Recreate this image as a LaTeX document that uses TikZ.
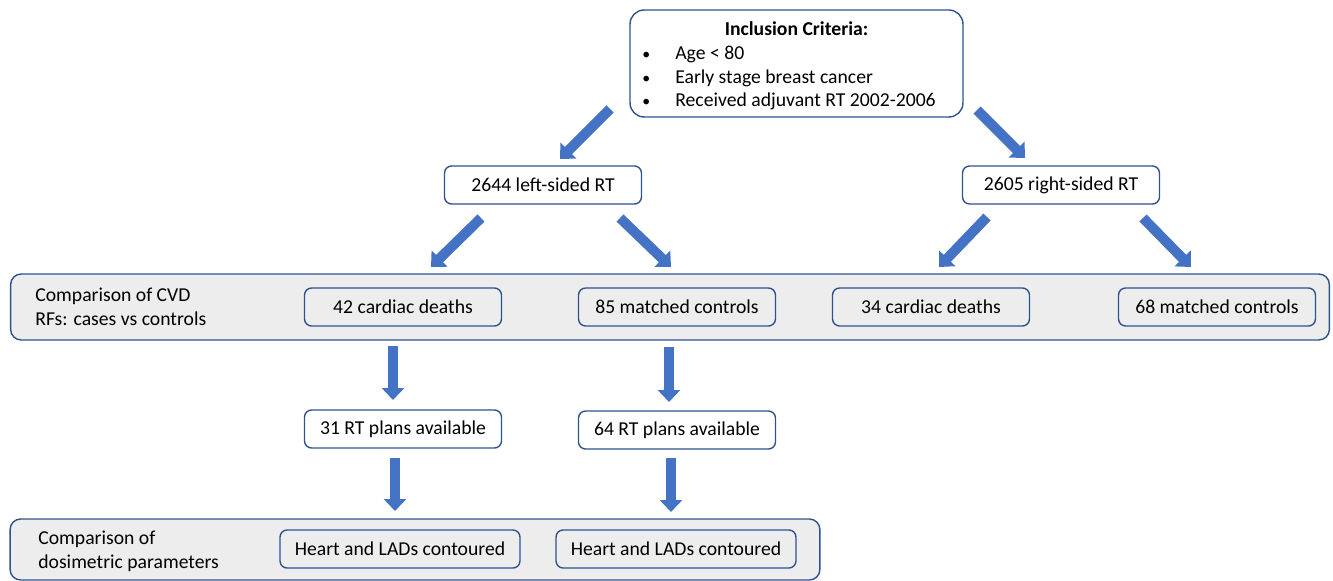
\documentclass[tikz,border=0pt]{standalone}
\usepackage{fontspec}
\setmainfont{Carlito}
\usepackage{xcolor}
\usepackage{tikz}
\usetikzlibrary{arrows.meta,positioning,calc}
\definecolor{edge}{HTML}{2F528F}
\definecolor{arrw}{HTML}{4472C4}
\definecolor{band}{HTML}{EDEDED}
\tikzset{
  box/.style={draw=edge,thick,rounded corners=4pt,minimum width=3.94cm,minimum height=0.76cm,align=center},
  crit/.style={draw=edge,thick,rounded corners=8pt,minimum width=6.66cm,minimum height=2.14cm,align=center,inner sep=0pt},
  bandbox/.style={draw=edge,thick,fill=band,rounded corners=6pt,inner sep=0pt},
  bandlbl/.style={anchor=west,align=left,inner sep=0pt},
  blk/.style={line width=0.2cm,draw=arrw,-{Triangle[width=0.44cm,length=0.24cm]}},
}

\begin{document}
\begin{tikzpicture}[x=0.02cm,y=-0.02cm,font=\fontsize{11.2}{13.5}\selectfont]
  \useasboundingbox (0,0) rectangle (1333,581);
  % grey bands
  \node[bandbox,minimum width=26.38cm,minimum height=1.32cm] (cvd) at (670,307) {};
  \node[bandbox,minimum width=16.2cm,minimum height=1.22cm] (dos) at (415,549.5) {};
  \node[bandlbl] (cvdl) at (35,307) {Comparison of CVD\\RFs: cases vs controls};
  \node[bandlbl] (dosl) at (38,551) {Comparison of\\dosimetric parameters};
  % boxes
  \node[crit] (incl) at (796.5,63.5) {\begin{tabular}{@{}p{0.56cm}@{}l@{\hspace{0.2cm}}}
      \multicolumn{2}{@{}c@{}}{\rule{0pt}{13pt}\textbf{Inclusion Criteria:}}\\
      \hspace{-0.1cm}{\small\textbullet} & Age < 80\\
      \hspace{-0.1cm}{\small\textbullet} & Early stage breast cancer\\
      \hspace{-0.1cm}{\small\textbullet} & Received adjuvant RT 2002-2006
    \end{tabular}};
  \node[box] (left)  at (543,185)  {2644 left-sided RT};
  \node[box] (right) at (1061,185) {2605 right-sided RT};
  \node[box] (lcase) at (403,307)  {42 cardiac deaths};
  \node[box] (lctrl) at (677,307)  {85 matched controls};
  \node[box] (rcase) at (931,307)  {34 cardiac deaths};
  \node[box] (rctrl) at (1217,307) {68 matched controls};
  \node[box] (lplan) at (403,429)  {31 RT plans available};
  \node[box] (cplan) at (677,430)  {64 RT plans available};
  \node[box,minimum width=4.8cm] (lcont) at (400,549) {Heart and LADs contoured};
  \node[box,minimum width=4.8cm] (ccont) at (676,549) {Heart and LADs contoured};
  % arrow ends
  \coordinate (a1) at (610,109);  \coordinate (b1) at (560,159);
  \coordinate (a2) at (977,110);  \coordinate (b2) at (1025,158);
  \coordinate (a3) at (481,218);  \coordinate (b3) at (431,267);
  \coordinate (a4) at (620,218);  \coordinate (b4) at (671,267);
  \coordinate (a5) at (987,217);  \coordinate (b5) at (939,267);
  \coordinate (a6) at (1143,218); \coordinate (b6) at (1191,267);
  \coordinate (a7) at (393,346);  \coordinate (b7) at (393,400);
  \coordinate (a8) at (669,347);  \coordinate (b8) at (669,402);
  \coordinate (a9) at (395,458);  \coordinate (b9) at (395,511);
  \coordinate (a10) at (671,458); \coordinate (b10) at (671,512);
  \foreach \i in {1,...,10}{ \draw[blk] (a\i) -- (b\i); }
\end{tikzpicture}
\end{document}
